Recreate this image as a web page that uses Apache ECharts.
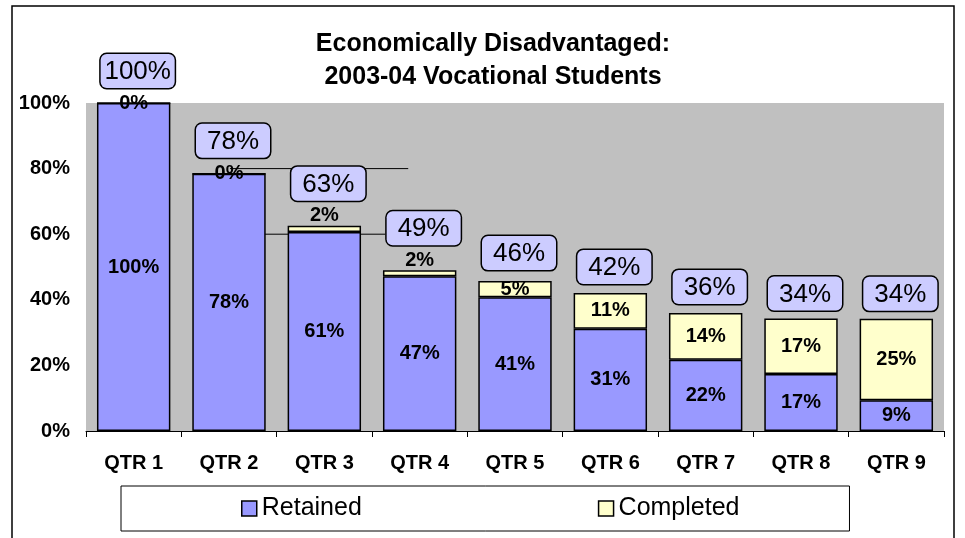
<!DOCTYPE html>
<html>
<head>
<meta charset="utf-8">
<script src="https://cdn.jsdelivr.net/npm/echarts@6/dist/echarts.min.js"></script>
<style>
  html, body { margin: 0; padding: 0; background: #fff; }
  #chart { width: 965px; height: 538px; }
</style>
</head>
<body>
<div id="chart"></div>
<script>
// quarters
const categories = ['QTR 1', 'QTR 2', 'QTR 3', 'QTR 4', 'QTR 5', 'QTR 6', 'QTR 7', 'QTR 8', 'QTR 9']
// percent of students
const retained = [100, 78.4, 60.7, 47.2, 40.8, 31.2, 21.7, 17.4, 9.4]
const completed = [0, 0, 1.9, 1.8, 4.9, 10.9, 14.3, 16.9, 24.8]
const yTicks = [0, 20, 40, 60, 80, 100]
// stray connector lines in the original, in axis units [x, y]
const connectorLines = [
  [[1.01, 80], [2.88, 80]],
  [[1.36, 60], [2.64, 60]]
]

// gap (px) between bar top and the total box, per quarter
const totalGap = [15, 16, 25, 25, 11, 9, 9, 8, 8]

const font = "'Liberation Sans', Arial, sans-serif"
const chart = echarts.init(document.getElementById('chart'))

const totals = retained.map((v, i) => v + completed[i])

const option = {
  animation: false,
  textStyle: { fontFamily: font, color: '#000' },
  title: {
    text: 'Economically Disadvantaged:\n2003-04 Vocational Students',
    left: 488,
    top: 23,
    textAlign: 'center',
    textStyle: { fontFamily: font, fontSize: 25, fontWeight: 'bold', lineHeight: 33, color: '#000' }
  },
  graphic: [
    {
      type: 'rect',
      shape: { x: 12, y: 6, width: 942, height: 600 },
      style: { fill: 'none', stroke: '#000', lineWidth: 1.5 },
      silent: true
    }
  ],
  legend: {
    data: ['Retained', 'Completed'],
    left: 121,
    top: 486,
    orient: 'horizontal',
    icon: 'rect',
    itemWidth: 15,
    itemHeight: 15,
    itemGap: 236,
    padding: [10, 110, 10, 120],
    backgroundColor: '#fff',
    borderColor: '#000',
    borderWidth: 1,
    itemStyle: { borderColor: '#000', borderWidth: 1.5 },
    textStyle: { fontFamily: font, fontSize: 25, color: '#000' }
  },
  grid: {
    left: 86,
    right: 21,
    top: 103,
    bottom: 107,
    show: true,
    backgroundColor: '#c0c0c0',
    borderWidth: 0
  },
  xAxis: [
    {
      type: 'category',
      data: categories,
      axisLine: { lineStyle: { color: '#000', width: 1 } },
      axisTick: { show: true, length: 6, lineStyle: { color: '#000' } },
      axisLabel: { fontFamily: font, fontSize: 20, fontWeight: 'bold', color: '#000', margin: 22 }
    },
    {
      type: 'value',
      min: -0.5,
      max: 8.5,
      show: false
    }
  ],
  yAxis: {
    type: 'value',
    min: yTicks[0],
    max: yTicks[yTicks.length - 1],
    interval: yTicks[1] - yTicks[0],
    axisLine: { show: true, lineStyle: { color: '#000', width: 1 } },
    axisTick: { show: true, length: 6, lineStyle: { color: '#000' } },
    splitLine: { show: false },
    axisLabel: {
      fontFamily: font, fontSize: 20, fontWeight: 'bold', color: '#000', margin: 16,
      formatter: '{value}%'
    }
  },
  series: [
    ...connectorLines.map(seg => ({
      type: 'line',
      xAxisIndex: 1,
      data: seg,
      symbol: 'none',
      silent: true,
      z: 1,
      lineStyle: { color: '#000', width: 1 }
    })),
    {
      name: 'Retained',
      type: 'bar',
      stack: 'a',
      data: retained,
      barCategoryGap: '23%',
      z: 3,
      itemStyle: { color: '#9999ff', borderColor: '#000', borderWidth: 1.5 },
      label: {
        show: true,
        position: 'inside',
        fontFamily: font, fontSize: 20, fontWeight: 'bold', color: '#000',
        formatter: p => Math.round(p.value) + '%'
      }
    },
    {
      name: 'Completed',
      type: 'bar',
      stack: 'a',
      z: 3,
      data: completed.map(v => ({
        value: v,
        label: v > 0 && v < 4 ? { position: 'top', distance: 0 } : {}
      })),
      itemStyle: { color: '#ffffcc', borderColor: '#000', borderWidth: 1.5 },
      label: {
        show: true,
        position: 'inside',
        fontFamily: font, fontSize: 20, fontWeight: 'bold', color: '#000',
        formatter: p => Math.round(p.value) + '%'
      }
    },
    {
      name: 'Total',
      type: 'bar',
      stack: 'a',
      z: 4,
      data: totals.map((t, i) => ({
        value: 0,
        label: { distance: totalGap[i] }
      })),
      itemStyle: { color: 'transparent', borderWidth: 0 },
      label: {
        show: true,
        position: 'top',
        offset: [4, 0],
        fontFamily: font, fontSize: 26, color: '#000',
        backgroundColor: '#ccccff',
        borderColor: '#000',
        borderWidth: 1.5,
        borderRadius: 6,
        width: 66,
        align: 'center',
        padding: [5, 4, 3, 4],
        formatter: p => Math.round(totals[p.dataIndex]) + '%'
      }
    }
  ]
}

chart.setOption(option)
</script>
</body>
</html>
